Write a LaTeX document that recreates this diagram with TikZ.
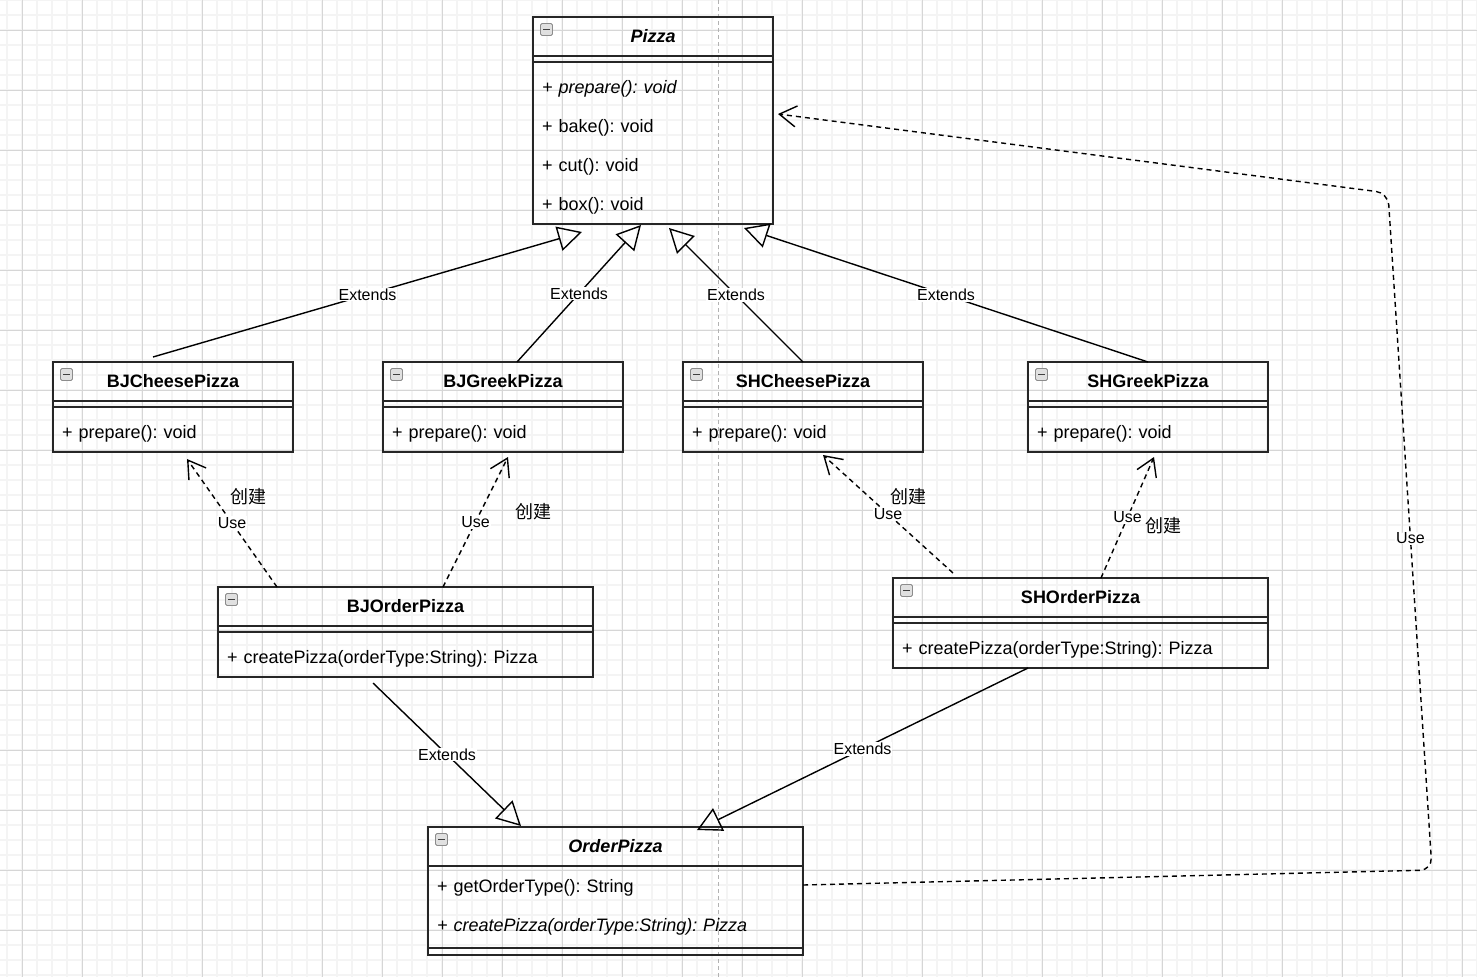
\documentclass[tikz,border=0pt]{standalone}
\usepackage{fontspec}
\setmainfont{Liberation Sans}
\newfontfamily\cjk{Noto Sans CJK SC}
\usepackage{tikz}
\usetikzlibrary{arrows.meta, positioning}
\frenchspacing
\definecolor{umlline}{RGB}{38,38,38}
\definecolor{gridmaj}{RGB}{214,214,214}
\definecolor{gridmin}{RGB}{244,244,244}
\tikzset{
  classhead/.style={rectangle, draw=umlline, line width=1.6pt, anchor=north west,
    outer sep=0pt, inner sep=0pt, minimum height=39pt,
    font=\fontsize{18}{21}\selectfont\bfseries},
  classgap/.style={rectangle, draw=umlline, line width=1.6pt, outer sep=0pt,
    inner sep=0pt, minimum height=6pt},
  classbody/.style={rectangle, draw=umlline, line width=1.6pt, outer sep=0pt,
    inner xsep=9pt, inner ysep=0pt, align=left,
    font=\fontsize{18}{39}\selectfont,
    execute at begin node={\rule{0pt}{22pt}}},
  icon/.style={rectangle, draw=black!45, fill=black!12, rounded corners=1.5pt,
    line width=0.8pt, minimum size=12pt, inner sep=0pt,
    path picture={\draw[line width=1.6pt, black!75]
      ([xshift=-3.5pt]path picture bounding box.center) --
      ([xshift=3.5pt]path picture bounding box.center);}},
  extends/.style={-{Triangle[open, length=24pt, width=25pt]}, line width=1.4pt, black},
  uses/.style={-{Straight Barb[length=17pt, width=21pt]}, line width=1.4pt, black,
    dash pattern=on 5pt off 4pt},
  lbl/.style={fill=white, inner sep=1pt, font=\fontsize{16}{19}\selectfont},
  note/.style={inner sep=1pt, font=\cjk\fontsize{18}{21}\selectfont},
  gridminor/.style={draw=gridmin, line width=1.6pt},
  gridmajor/.style={draw=gridmaj, line width=1pt},
  guide/.style={draw=black!30, line width=1pt, dash pattern=on 4pt off 3pt}
}
\begin{document}
\begin{tikzpicture}[x=1pt, y=-1pt, node distance=0pt]
  \useasboundingbox (0,0) rectangle (1477,977);
  % grid background
  \foreach \x in {7,22,...,1477} \draw[gridminor] (\x,0) -- (\x,977);
  \foreach \y in {0,15,...,977} \draw[gridminor] (0,\y) -- (1477,\y);
  \foreach \x in {22,82,...,1477} \draw[gridmajor] (\x,0) -- (\x,977);
  \foreach \y in {30,90,...,977} \draw[gridmajor] (0,\y) -- (1477,\y);
  \draw[guide] (718,0) -- (718,977);

  % Pizza
  \node[classhead, minimum width=240pt] (pizzaH) at (533,17) {\textit{Pizza}};
  \node[classgap, minimum width=240pt, below=of pizzaH] (pizzaG) {};
  \node[classbody, text width=222pt, minimum height=162pt, below=of pizzaG] (pizzaB)
    {\textit{+ prepare(): void}\\+ bake(): void\\+ cut(): void\\+ box(): void};

  % concrete pizzas
  \node[classhead, minimum width=240pt] (bjcH) at (53,362) {BJCheesePizza};
  \node[classgap, minimum width=240pt, below=of bjcH] (bjcG) {};
  \node[classbody, text width=222pt, minimum height=45pt, below=of bjcG] (bjcB)
    {+ prepare(): void};
  \node[classhead, minimum width=240pt] (bjgH) at (383,362) {BJGreekPizza};
  \node[classgap, minimum width=240pt, below=of bjgH] (bjgG) {};
  \node[classbody, text width=222pt, minimum height=45pt, below=of bjgG] (bjgB)
    {+ prepare(): void};
  \node[classhead, minimum width=240pt] (shcH) at (683,362) {SHCheesePizza};
  \node[classgap, minimum width=240pt, below=of shcH] (shcG) {};
  \node[classbody, text width=222pt, minimum height=45pt, below=of shcG] (shcB)
    {+ prepare(): void};
  \node[classhead, minimum width=240pt] (shgH) at (1028,362) {SHGreekPizza};
  \node[classgap, minimum width=240pt, below=of shgH] (shgG) {};
  \node[classbody, text width=222pt, minimum height=45pt, below=of shgG] (shgB)
    {+ prepare(): void};

  % order classes
  \node[classhead, minimum width=375pt] (boH) at (218,587) {BJOrderPizza};
  \node[classgap, minimum width=375pt, below=of boH] (boG) {};
  \node[classbody, text width=357pt, minimum height=45pt, below=of boG] (boB)
    {+ createPizza(orderType:String): Pizza};
  \node[classhead, minimum width=375pt] (soH) at (893,578) {SHOrderPizza};
  \node[classgap, minimum width=375pt, below=of soH] (soG) {};
  \node[classbody, text width=357pt, minimum height=45pt, below=of soG] (soB)
    {+ createPizza(orderType:String): Pizza};
  \node[classhead, minimum width=375pt] (opH) at (428,827) {\textit{OrderPizza}};
  \node[classbody, text width=357pt, minimum height=82pt, below=of opH] (opB)
    {+ getOrderType(): String\\\textit{+ createPizza(orderType:String): Pizza}%
     \rule[-13pt]{0pt}{0pt}};
  \node[classgap, minimum width=375pt, minimum height=7pt, below=of opB] (opG) {};

  \foreach \c in {pizza,bjc,bjg,shc,shg,bo,so,op}
    \node[icon] (\c I) at ([xshift=13.5pt,yshift=-12.5pt]\c H.north west) {};

  % inheritance
  \draw[extends] ([xshift=-20pt,yshift=5pt]bjcH.north) -- node[lbl] (lE1) {Extends}
    ([xshift=49pt,yshift=-8pt]pizzaB.south west);
  \draw[extends] ([xshift=14pt]bjgH.north) -- node[lbl] (lE2) {Extends}
    ([xshift=108pt,yshift=-1pt]pizzaB.south west);
  \draw[extends] (shcH.north) -- node[lbl] (lE3) {Extends}
    ([xshift=136pt,yshift=-4pt]pizzaB.south west);
  \draw[extends] (shgH.north) -- node[lbl] (lE4) {Extends}
    ([xshift=-29pt,yshift=-4pt]pizzaB.south east);
  \draw[extends] ([xshift=155pt,yshift=-6pt]boB.south west) -- node[lbl] (lE5) {Extends}
    ([xshift=93pt,yshift=1pt]opH.north west);
  \draw[extends] ([xshift=135pt]soB.south west) -- node[lbl] (lE6) {Extends}
    ([xshift=269pt,yshift=-3pt]opH.north west);

  % dependencies
  \draw[uses] ([xshift=59pt]boH.north west) -- node[lbl] (lU1) {Use}
    ([xshift=134pt,yshift=-7pt]bjcB.south west);
  \draw[uses] ([xshift=225pt]boH.north west) -- node[lbl] (lU2) {Use}
    ([xshift=125pt,yshift=-5pt]bjgB.south west);
  \draw[uses] ([xshift=60pt,yshift=5pt]soH.north west) -- node[lbl] (lU3) {Use}
    ([xshift=140pt,yshift=-3pt]shcB.south west);
  \draw[uses] ([xshift=208pt]soH.north west) -- node[lbl] (lU4) {Use}
    ([xshift=126pt,yshift=-5pt]shgB.south west);
  \coordinate (bendlow) at (1432,870);
  \coordinate (bendhigh) at (1388,193);
  \draw[uses, rounded corners=12pt] ([yshift=-19pt]opB.north east) -- (bendlow)
    -- node[lbl, pos=0.49] (lU5) {Use} (bendhigh)
    -- ([xshift=5pt,yshift=-52pt]pizzaB.north east);

  \node[note] (n1) at (248,497) {创建};
  \node[note] (n2) at (533,512) {创建};
  \node[note] (n3) at (908,497) {创建};
  \node[note] (n4) at (1163,526) {创建};
\end{tikzpicture}
\end{document}
